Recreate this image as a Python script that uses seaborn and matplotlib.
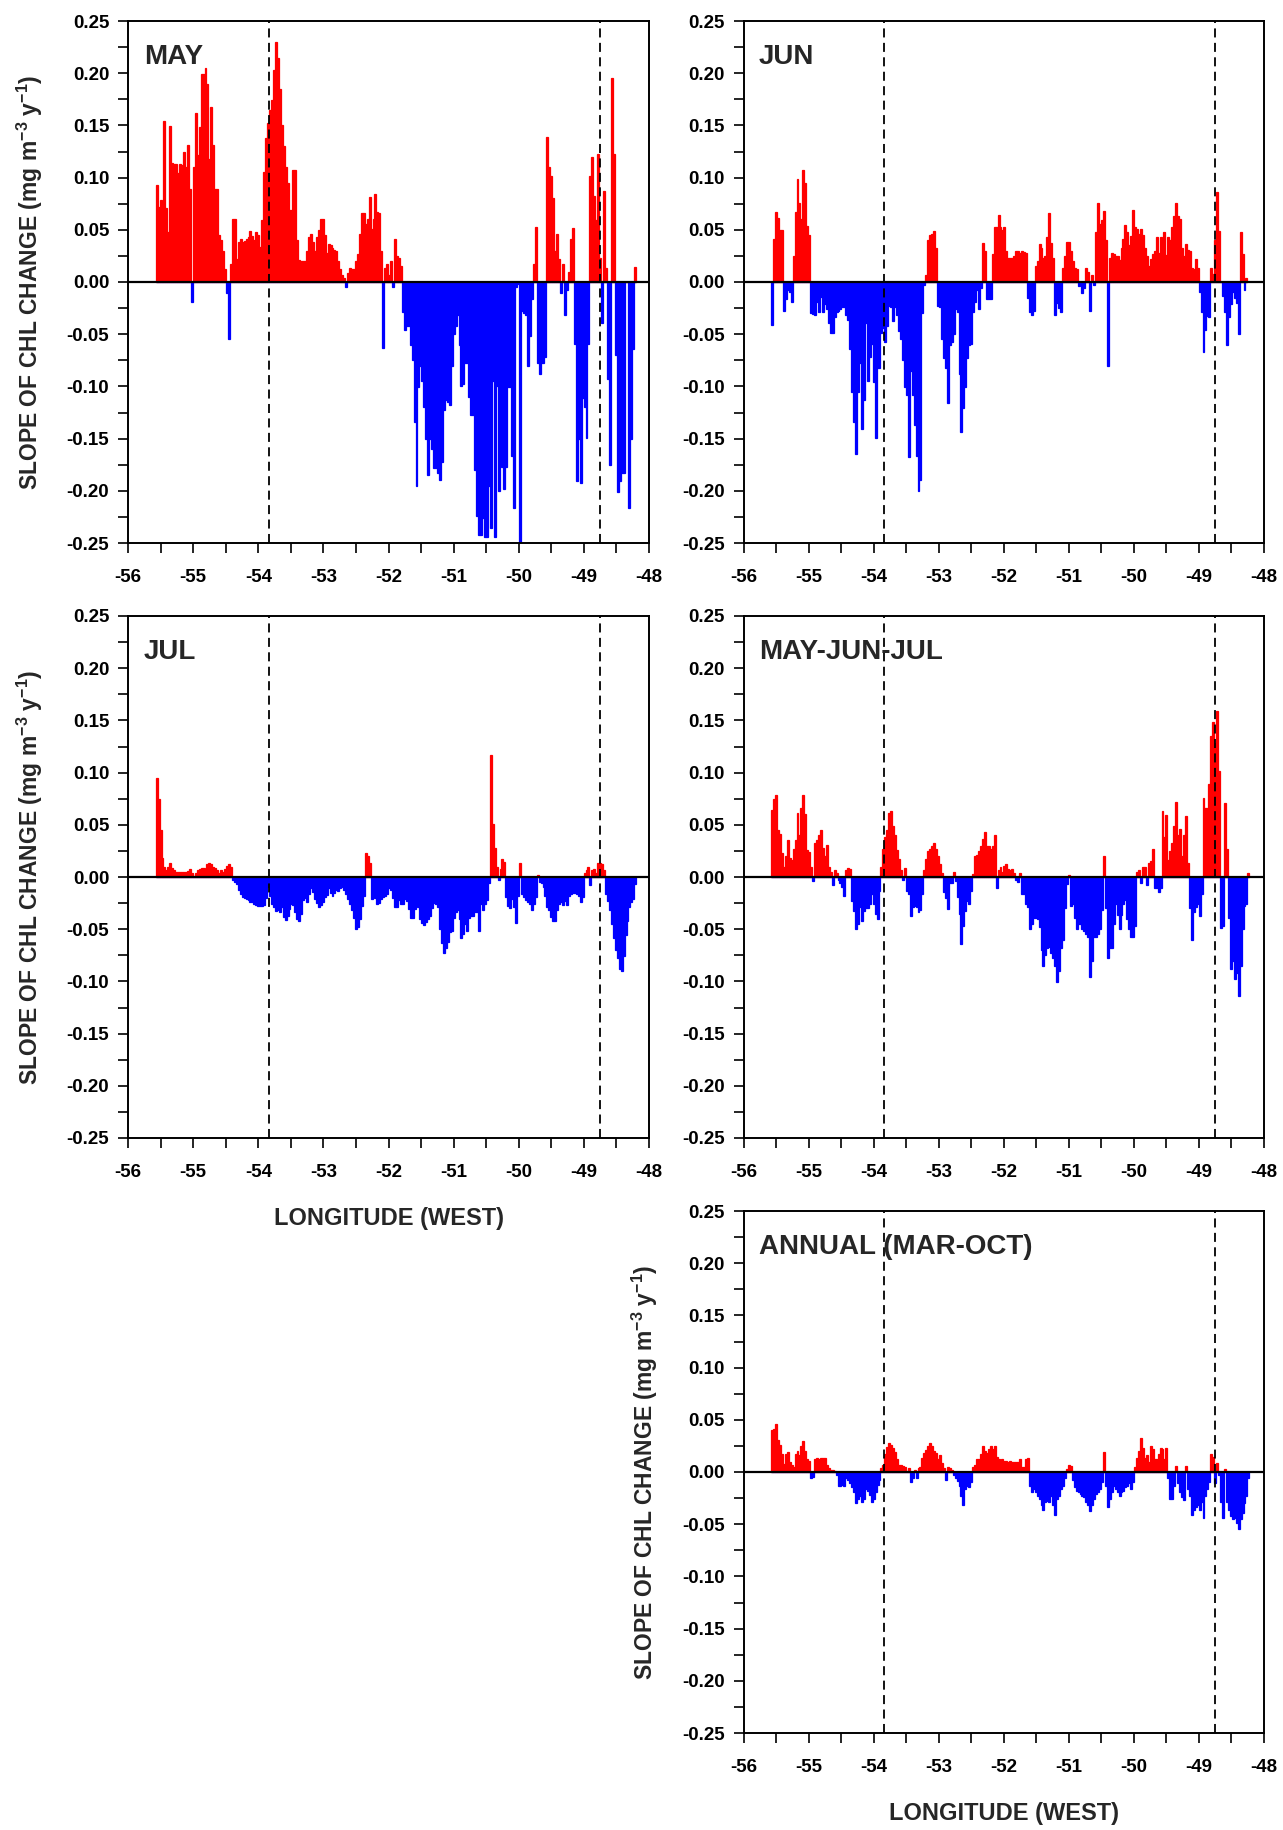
import numpy as np
import pandas as pd
import matplotlib
matplotlib.use("Agg")
import matplotlib.pyplot as plt
import seaborn as sns
from matplotlib.ticker import MultipleLocator

sns.set_theme(style="ticks")
plt.rcParams["font.family"] = ["Liberation Sans", "DejaVu Sans"]
plt.rcParams["font.weight"] = "bold"
plt.rcParams["axes.unicode_minus"] = False
plt.rcParams["mathtext.fontset"] = "custom"
plt.rcParams["mathtext.rm"] = "Liberation Sans:bold"
plt.rcParams["mathtext.bf"] = "Liberation Sans:bold"
plt.rcParams["mathtext.default"] = "bf"

# ---------------- data ----------------
LON_START = -55.56       # first longitude of each series
LON_STEP = 0.03          # longitude spacing of the series
DASH_LONS = [-53.84, -48.76]

X_TICKS = [-56, -55, -54, -53, -52, -51, -50, -49, -48]
X_TICK_LABELS = ["-56", "-55", "-54", "-53", "-52", "-51", "-50", "-49", "-48"]
Y_TICKS = [-0.25, -0.20, -0.15, -0.10, -0.05, 0.00, 0.05, 0.10, 0.15, 0.20, 0.25]
Y_TICK_LABELS = ["-0.25", "-0.20", "-0.15", "-0.10", "-0.05", "0.00",
                 "0.05", "0.10", "0.15", "0.20", "0.25"]

MAY = [
    0.093, 0.072, 0.079, 0.070, 0.154, 0.071, 0.048, 0.149, 0.114, 0.113,
    0.113, 0.104, 0.113, 0.112, 0.125, 0.110, 0.131, 0.089, -0.019, 0.110,
    0.162, 0.122, 0.148, 0.199, 0.199, 0.205, 0.190, 0.118, 0.168, 0.131,
    0.089, 0.089, 0.045, 0.040, 0.030, 0.012, -0.011, -0.055, 0.017, 0.060,
    0.060, 0.022, 0.038, 0.041, 0.038, 0.039, 0.041, 0.043, 0.049, 0.044,
    0.040, 0.048, 0.045, 0.034, 0.059, 0.105, 0.138, 0.152, 0.165, 0.174,
    0.203, 0.230, 0.215, 0.185, 0.150, 0.130, 0.110, 0.095, 0.069, 0.069,
    0.107, 0.107, 0.040, 0.021, 0.020, 0.020, 0.020, 0.030, 0.043, 0.046,
    0.038, 0.030, 0.043, 0.050, 0.060, 0.060, 0.045, 0.028, 0.036, 0.035,
    0.033, 0.031, 0.030, 0.020, 0.012, 0.007, 0.004, -0.005, 0.009, 0.013,
    0.012, 0.012, 0.020, 0.027, 0.046, 0.066, 0.066, 0.056, 0.060, 0.081,
    0.051, 0.060, 0.084, 0.067, 0.066, 0.030, -0.063, 0.013, 0.017, 0.007,
    0.020, -0.005, 0.041, 0.025, 0.023, 0.015, -0.029, -0.046, -0.042, -0.042,
    -0.060, -0.075, -0.134, -0.195, -0.101, -0.080, -0.095, -0.120, -0.150, -0.185,
    -0.150, -0.160, -0.178, -0.178, -0.183, -0.190, -0.172, -0.123, -0.113, -0.115,
    -0.118, -0.080, -0.050, -0.042, -0.032, -0.060, -0.100, -0.098, -0.078, -0.078,
    -0.110, -0.127, -0.127, -0.180, -0.224, -0.242, -0.242, -0.226, -0.244, -0.244,
    -0.195, -0.236, -0.095, -0.244, -0.100, -0.200, -0.147, -0.177, -0.198, -0.177,
    -0.101, -0.101, -0.167, -0.216, -0.005, -0.002, -0.250, -0.028, -0.030, -0.032,
    -0.080, -0.052, -0.016, 0.017, 0.053, -0.078, -0.088, -0.078, -0.078, -0.072,
    0.139, 0.110, 0.102, 0.080, 0.030, 0.046, 0.022, -0.011, 0.017, -0.032,
    -0.008, 0.010, 0.041, 0.052, -0.059, -0.191, -0.150, -0.193, -0.111, -0.120,
    -0.149, -0.059, 0.102, 0.120, 0.082, 0.059, 0.123, 0.023, -0.039, 0.087,
    0.013, -0.093, -0.175, 0.195, 0.123, -0.070, -0.201, -0.191, -0.183, -0.183,
    0.000, 0.000, -0.216, -0.150, -0.064, 0.014,
]

JUN = [
    -0.041, 0.041, 0.067, 0.061, 0.050, 0.050, -0.028, -0.016, -0.008, -0.010,
    -0.019, 0.025, 0.067, 0.099, 0.076, 0.060, 0.107, 0.095, 0.054, 0.045,
    -0.030, -0.031, -0.032, -0.019, -0.029, -0.014, -0.029, -0.021, -0.026, -0.039,
    -0.049, -0.049, -0.034, -0.029, -0.028, -0.026, -0.024, -0.024, -0.032, -0.036,
    -0.064, -0.105, -0.134, -0.165, -0.105, -0.078, -0.141, -0.113, -0.039, -0.095,
    -0.072, -0.059, -0.096, -0.149, -0.082, -0.082, -0.049, -0.044, -0.057, -0.042,
    -0.023, -0.024, -0.037, -0.024, -0.032, -0.047, -0.055, -0.075, -0.101, -0.108,
    -0.168, -0.085, -0.108, -0.137, -0.167, -0.200, -0.190, -0.030, -0.003, 0.007,
    0.040, 0.045, 0.046, 0.049, 0.033, -0.023, -0.024, -0.055, -0.073, -0.082,
    -0.116, -0.060, -0.057, -0.050, -0.026, -0.029, -0.088, -0.144, -0.121, -0.101,
    -0.073, -0.060, -0.059, -0.029, -0.019, -0.008, -0.026, -0.006, 0.037, 0.030,
    -0.016, -0.016, -0.016, 0.027, 0.053, 0.053, 0.064, 0.053, 0.050, 0.053,
    0.030, 0.023, 0.023, 0.023, 0.025, 0.030, 0.030, 0.028, 0.030, 0.029,
    0.028, -0.015, -0.029, -0.032, -0.028, 0.015, 0.020, 0.036, 0.033, 0.023,
    0.025, 0.043, 0.066, 0.037, 0.023, -0.032, -0.020, -0.025, -0.029, 0.013,
    0.025, 0.038, 0.038, 0.030, 0.020, 0.013, 0.012, -0.004, -0.003, -0.011,
    -0.006, 0.013, 0.010, -0.028, 0.007, -0.003, 0.048, 0.076, 0.056, 0.059,
    0.068, 0.040, -0.080, 0.023, 0.028, 0.027, 0.025, 0.025, 0.021, 0.033,
    0.041, 0.055, 0.048, 0.035, 0.044, 0.069, 0.053, 0.051, 0.046, 0.051,
    0.045, 0.033, 0.025, 0.015, 0.022, 0.027, 0.030, 0.043, 0.028, 0.043,
    0.028, 0.048, 0.026, 0.043, 0.040, 0.053, 0.063, 0.076, 0.063, 0.060,
    0.033, 0.025, 0.036, 0.031, 0.030, 0.013, 0.012, 0.022, 0.013, -0.010,
    -0.029, -0.067, -0.046, -0.033, -0.034, 0.013, 0.008, 0.040, 0.086, 0.049,
    0.000, -0.013, -0.029, -0.060, -0.034, -0.021, -0.010, -0.015, -0.020, -0.050,
    0.048, 0.027, -0.008, 0.004,
]

JUL = [
    0.095, 0.075, 0.045, 0.018, 0.010, 0.007, 0.010, 0.013, 0.009, 0.007,
    0.005, 0.005, 0.005, 0.005, 0.005, 0.005, 0.006, 0.008, 0.004, 0.001,
    0.004, 0.007, 0.008, 0.009, 0.009, 0.004, 0.012, 0.013, 0.012, 0.010,
    0.009, 0.007, 0.004, 0.007, 0.005, 0.008, 0.011, 0.012, 0.010, -0.003,
    -0.005, -0.007, -0.012, -0.016, -0.019, -0.020, -0.021, -0.022, -0.024, -0.024,
    -0.026, -0.027, -0.028, -0.028, -0.028, -0.027, -0.020, -0.010, -0.018, -0.026,
    -0.029, -0.033, -0.032, -0.034, -0.029, -0.038, -0.041, -0.037, -0.031, -0.026,
    -0.027, -0.034, -0.040, -0.042, -0.035, -0.022, -0.020, -0.024, -0.016, -0.011,
    -0.014, -0.021, -0.025, -0.029, -0.027, -0.024, -0.019, -0.017, -0.011, -0.015,
    -0.018, -0.015, -0.012, -0.013, -0.011, -0.010, -0.012, -0.016, -0.021, -0.026,
    -0.032, -0.039, -0.050, -0.048, -0.040, -0.028, -0.018, 0.023, 0.020, 0.013,
    -0.021, -0.011, -0.020, -0.026, -0.025, -0.021, -0.019, -0.018, -0.016, -0.011,
    -0.012, -0.020, -0.029, -0.029, -0.022, -0.026, -0.026, -0.021, -0.023, -0.031,
    -0.039, -0.039, -0.031, -0.026, -0.029, -0.040, -0.044, -0.046, -0.043, -0.040,
    -0.037, -0.030, -0.025, -0.026, -0.029, -0.050, -0.063, -0.073, -0.068, -0.062,
    -0.053, -0.052, -0.039, -0.034, -0.032, -0.040, -0.058, -0.055, -0.045, -0.052,
    -0.039, -0.037, -0.037, -0.034, -0.034, -0.052, -0.026, -0.032, -0.026, -0.022,
    -0.006, 0.117, 0.051, 0.028, 0.010, -0.003, 0.008, 0.017, 0.014, -0.019,
    -0.028, -0.030, -0.021, -0.029, -0.044, -0.018, 0.013, -0.016, -0.019, -0.022,
    -0.024, -0.026, -0.032, -0.026, -0.019, 0.002, -0.005, -0.006, -0.010, -0.018,
    -0.029, -0.032, -0.038, -0.042, -0.042, -0.032, -0.026, -0.024, -0.027, -0.023,
    -0.027, -0.018, -0.016, -0.015, -0.015, -0.016, -0.018, -0.024, -0.019, 0.004,
    0.007, 0.010, -0.008, 0.007, 0.008, 0.004, 0.013, 0.013, 0.012, 0.007,
    -0.016, -0.023, -0.032, -0.045, -0.058, -0.070, -0.078, -0.088, -0.090, -0.076,
    -0.056, -0.042, -0.029, -0.024, -0.021, -0.007,
]

MJJ = [
    0.064, 0.075, 0.079, 0.045, 0.041, 0.023, 0.010, 0.020, 0.035, 0.018,
    0.016, 0.027, 0.035, 0.061, 0.040, 0.066, 0.079, 0.060, 0.026, 0.024,
    0.010, -0.004, 0.033, 0.035, 0.040, 0.045, 0.028, 0.020, 0.031, 0.010,
    0.005, -0.008, 0.007, 0.004, -0.003, -0.006, -0.010, -0.018, 0.007, 0.009,
    0.008, -0.023, -0.033, -0.050, -0.045, -0.029, -0.042, -0.033, -0.030, -0.030,
    -0.026, -0.016, -0.026, -0.035, -0.040, -0.013, 0.010, 0.027, 0.038, 0.045,
    0.061, 0.063, 0.049, 0.040, 0.026, 0.017, 0.007, -0.003, 0.009, -0.013,
    -0.016, -0.037, -0.029, -0.028, -0.029, -0.034, -0.032, -0.016, 0.007, 0.017,
    0.025, 0.027, 0.030, 0.033, 0.027, 0.020, 0.012, 0.004, -0.014, -0.020,
    -0.031, -0.006, -0.006, 0.005, -0.004, -0.019, -0.035, -0.064, -0.047, -0.033,
    -0.023, -0.026, -0.013, 0.003, 0.020, 0.021, 0.025, 0.030, 0.036, 0.043,
    0.030, 0.030, 0.027, 0.030, 0.040, -0.011, 0.007, 0.010, 0.005, 0.011,
    0.012, 0.008, 0.007, 0.008, 0.004, -0.003, -0.005, 0.004, -0.016, -0.016,
    -0.026, -0.029, -0.050, -0.045, -0.039, -0.039, -0.040, -0.048, -0.070, -0.085,
    -0.075, -0.068, -0.067, -0.073, -0.078, -0.085, -0.101, -0.090, -0.068, -0.060,
    -0.030, -0.007, 0.002, -0.028, -0.026, -0.039, -0.050, -0.045, -0.045, -0.050,
    -0.052, -0.055, -0.057, -0.096, -0.080, -0.057, -0.057, -0.055, -0.050, -0.032,
    0.020, -0.030, -0.078, -0.068, -0.068, -0.045, -0.026, -0.036, -0.050, -0.036,
    -0.026, -0.022, -0.040, -0.050, -0.057, -0.057, -0.047, 0.005, 0.007, -0.006,
    0.010, 0.010, -0.008, 0.013, 0.015, 0.027, -0.011, -0.011, -0.014, -0.011,
    0.063, 0.038, 0.059, 0.016, 0.025, 0.033, 0.049, 0.072, 0.040, 0.046,
    0.020, 0.040, 0.058, 0.013, -0.030, -0.060, -0.034, -0.029, -0.026, -0.037,
    -0.016, 0.076, 0.066, 0.066, 0.089, 0.135, 0.148, 0.128, 0.159, 0.102,
    -0.049, -0.047, 0.071, 0.027, -0.039, -0.088, -0.080, -0.098, -0.092, -0.114,
    -0.085, -0.050, -0.028, -0.026, 0.004,
]

ANNUAL = [
    0.040, 0.041, 0.046, 0.031, 0.026, 0.017, 0.008, 0.017, 0.019, 0.010,
    0.007, 0.005, 0.017, 0.020, 0.016, 0.025, 0.030, 0.020, 0.012, 0.011,
    -0.006, -0.005, 0.012, 0.013, 0.012, 0.013, 0.013, 0.013, 0.007, 0.004,
    0.002, 0.002, 0.001, -0.003, -0.013, -0.013, -0.012, -0.013, -0.006, -0.008,
    -0.011, -0.014, -0.019, -0.030, -0.026, -0.023, -0.029, -0.026, -0.016, -0.018,
    -0.022, -0.029, -0.026, -0.019, -0.012, -0.008, 0.004, 0.007, 0.017, 0.024,
    0.028, 0.026, 0.023, 0.019, 0.012, 0.007, 0.007, 0.006, 0.005, 0.001,
    0.004, -0.010, -0.006, 0.002, -0.006, 0.004, 0.005, 0.013, 0.018, 0.021,
    0.025, 0.028, 0.025, 0.020, 0.018, 0.012, 0.016, 0.009, 0.004, -0.008,
    0.005, 0.004, 0.002, -0.003, -0.006, -0.009, -0.013, -0.023, -0.032, -0.016,
    -0.013, -0.014, -0.010, 0.005, 0.007, 0.012, 0.012, 0.017, 0.025, 0.020,
    0.018, 0.022, 0.025, 0.022, 0.025, 0.014, 0.012, 0.011, 0.012, 0.011,
    0.011, 0.010, 0.011, 0.010, 0.010, 0.010, 0.010, 0.012, 0.005, 0.005,
    0.012, 0.013, -0.013, -0.019, -0.016, -0.019, -0.023, -0.026, -0.032, -0.036,
    -0.029, -0.028, -0.029, -0.023, -0.032, -0.041, -0.026, -0.023, -0.016, -0.013,
    -0.006, 0.003, 0.007, 0.006, -0.008, -0.014, -0.018, -0.019, -0.021, -0.023,
    -0.024, -0.029, -0.032, -0.037, -0.032, -0.026, -0.021, -0.019, -0.016, -0.010,
    0.019, -0.013, -0.034, -0.026, -0.019, -0.013, -0.016, -0.019, -0.023, -0.019,
    -0.018, -0.014, -0.013, -0.011, -0.016, -0.010, 0.005, 0.013, 0.020, 0.033,
    0.023, 0.013, 0.016, 0.010, 0.025, 0.022, 0.012, 0.012, 0.017, 0.023,
    0.022, 0.012, 0.023, -0.006, -0.026, -0.026, -0.013, 0.006, -0.011, -0.019,
    -0.024, -0.027, 0.006, -0.016, -0.023, -0.041, -0.036, -0.034, -0.032, -0.036,
    -0.029, -0.044, -0.023, -0.016, -0.010, 0.017, 0.014, -0.011, 0.009, -0.003,
    -0.029, -0.044, 0.003, -0.029, -0.036, -0.042, -0.045, -0.044, -0.049, -0.055,
    -0.045, -0.039, -0.030, -0.023, -0.006,
]

TITLES = ["MAY", "JUN", "JUL", "MAY-JUN-JUL", "ANNUAL (MAR-OCT)"]
SERIES = [MAY, JUN, JUL, MJJ, ANNUAL]
YLABEL = "SLOPE OF CHL CHANGE (mg m$^{-3}$ y$^{-1}$)"
XLABEL = "LONGITUDE (WEST)"

# ---------------- layout ----------------
W, H = 1283, 1830
fig = plt.figure(figsize=(W / 100, H / 100), dpi=100)
fig.patch.set_facecolor("white")


def rect(left, top, right, bottom):
    return [left / W, 1 - bottom / H, (right - left) / W, (bottom - top) / H]


RECTS = [
    rect(128, 21, 649, 543),
    rect(743.5, 21, 1264, 543),
    rect(128, 616, 649, 1138),
    rect(743.5, 616, 1264, 1138),
    rect(743.5, 1211, 1264, 1733),
]
SHOW_YLABEL = [True, False, True, False, True]
SHOW_XLABEL = [False, False, True, False, True]

RED = "#ff0000"
BLUE = "#0000ff"

for title, vals, r, sy, sx in zip(TITLES, SERIES, RECTS, SHOW_YLABEL, SHOW_XLABEL):
    ax = fig.add_axes(r)
    v = np.asarray(vals, dtype=float)
    lon = np.round(LON_START + LON_STEP * np.arange(len(v)), 3)
    df = pd.DataFrame({"lon": lon,
                       "pos": np.clip(v, 0, None),
                       "neg": np.clip(v, None, 0)})
    sns.barplot(data=df, x="lon", y="pos", native_scale=True, width=1.0,
                color=RED, saturation=1, edgecolor=RED, linewidth=0.9,
                errorbar=None, ax=ax)
    sns.barplot(data=df, x="lon", y="neg", native_scale=True, width=1.0,
                color=BLUE, saturation=1, edgecolor=BLUE, linewidth=0.9,
                errorbar=None, ax=ax)

    ax.axhline(0, color="black", lw=1.6, zorder=5)
    for d in DASH_LONS:
        ax.axvline(d, color="black", lw=1.3, ls=(0, (5, 3)), zorder=4)

    ax.set_xlim(-56, -48)
    ax.set_ylim(-0.25, 0.25)
    ax.set_xticks(X_TICKS)
    ax.set_xticklabels(X_TICK_LABELS)
    ax.set_yticks(Y_TICKS)
    ax.set_yticklabels(Y_TICK_LABELS)
    ax.xaxis.set_minor_locator(MultipleLocator(0.5))
    ax.yaxis.set_minor_locator(MultipleLocator(0.025))
    ax.tick_params(which="both", direction="out", length=7.5, width=1.2,
                   colors="black", top=False, right=False)
    ax.tick_params(axis="x", which="major", labelsize=13.5, pad=11.5)
    ax.tick_params(axis="y", which="major", labelsize=13.5, pad=6)
    for lab in ax.get_xticklabels() + ax.get_yticklabels():
        lab.set_fontweight("bold")
    for s in ax.spines.values():
        s.set_visible(True)
        s.set_linewidth(1.4)
        s.set_color("black")
    ax.grid(False)

    ax.text(0.03, 0.918, title, transform=ax.transAxes, fontsize=20,
            fontweight="bold", va="baseline", ha="left", zorder=6)

    if sy:
        ax.set_ylabel(YLABEL, fontsize=16.5, fontweight="bold")
        ax.yaxis.set_label_coords(-0.16, 0.5)
    else:
        ax.set_ylabel("")
    if sx:
        ax.set_xlabel(XLABEL, fontsize=17, fontweight="bold")
        ax.xaxis.set_label_coords(0.5, -0.132)
    else:
        ax.set_xlabel("")

fig.savefig("out.png", dpi=100, facecolor="white")
